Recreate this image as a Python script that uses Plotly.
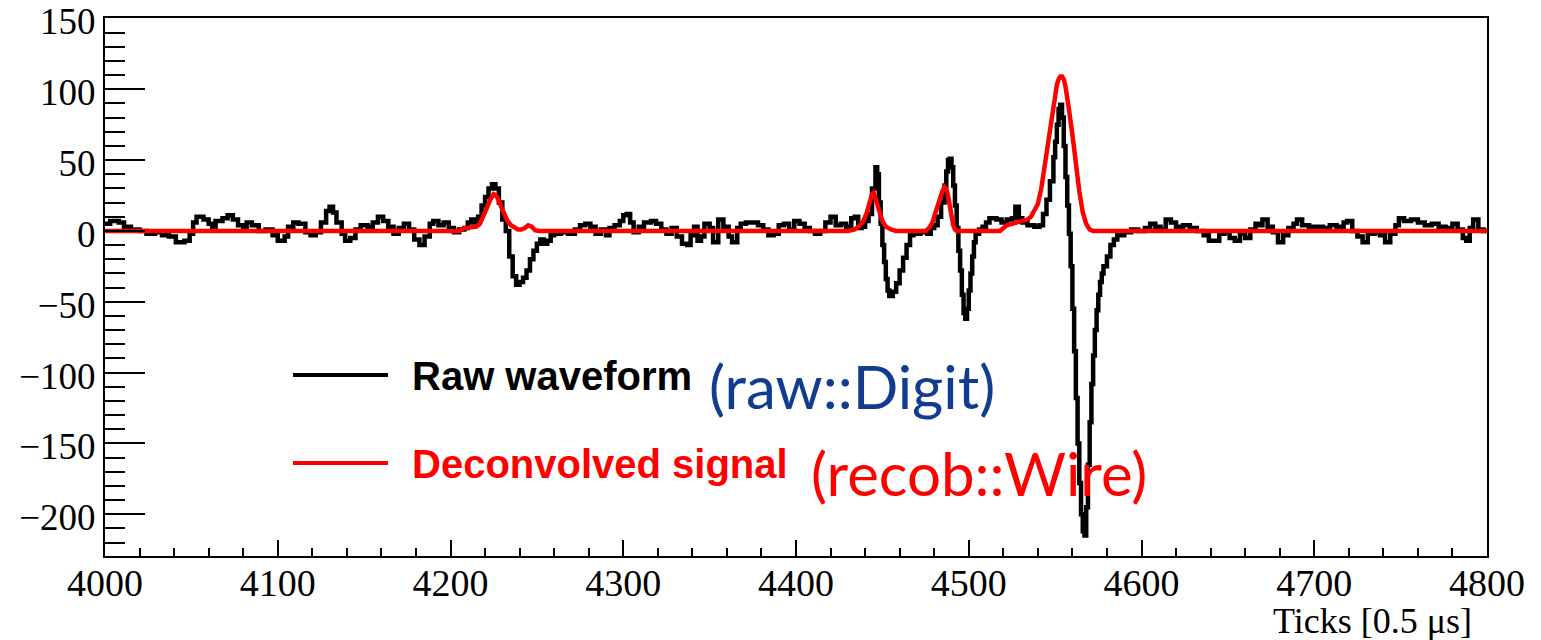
import plotly.graph_objects as go

# ---- data ----
raw_ticks = [4000, 4003, 4008, 4011, 4015, 4020, 4024, 4029, 4033, 4037, 4041, 4046, 4049, 4051, 4053, 4057,
             4060, 4062, 4064, 4068, 4071, 4074, 4077, 4080, 4082, 4085, 4089, 4093, 4097, 4100, 4104, 4106,
             4109, 4112, 4116, 4119, 4122, 4125, 4128, 4130, 4132, 4134, 4137, 4139, 4142, 4145, 4148, 4152,
             4155, 4158, 4161, 4164, 4167, 4170, 4173, 4176, 4179, 4182, 4185, 4188, 4190, 4193, 4196, 4199,
             4202, 4205, 4208, 4210, 4212, 4214, 4216, 4218, 4220, 4222, 4224, 4226, 4228, 4230, 4232, 4234,
             4236, 4238, 4240, 4242, 4244, 4246, 4248, 4250, 4252, 4254, 4256, 4258, 4260, 4264, 4268, 4272,
             4275, 4278, 4281, 4284, 4287, 4290, 4292, 4295, 4298, 4300, 4302, 4304, 4306, 4309, 4312, 4316,
             4319, 4322, 4325, 4328, 4331, 4334, 4337, 4339, 4341, 4343, 4345, 4347, 4350, 4352, 4355, 4358,
             4361, 4363, 4366, 4368, 4371, 4375, 4378, 4381, 4384, 4387, 4390, 4393, 4396, 4399, 4402, 4405,
             4408, 4411, 4414, 4417, 4420, 4423, 4426, 4429, 4432, 4434, 4436, 4438, 4440, 4442, 4444, 4446,
             4447, 4448, 4449, 4450, 4451, 4452, 4453, 4454, 4455, 4456, 4458, 4460, 4462, 4464, 4466, 4468,
             4472, 4476, 4478, 4480, 4482, 4484, 4486, 4487, 4488, 4489, 4490, 4491, 4492, 4493, 4494, 4495,
             4496, 4497, 4498, 4499, 4500, 4501, 4502, 4503, 4504, 4506, 4508, 4510, 4512, 4516, 4519, 4522,
             4525, 4527, 4529, 4531, 4534, 4538, 4541, 4543, 4545, 4547, 4549, 4550, 4551, 4552, 4553, 4554,
             4555, 4556, 4557, 4558, 4559, 4560, 4561, 4562, 4563, 4564, 4565, 4566, 4567, 4568, 4569, 4570,
             4571, 4572, 4573, 4574, 4575, 4576, 4577, 4578, 4580, 4582, 4584, 4586, 4590, 4594, 4598, 4602,
             4605, 4608, 4611, 4614, 4617, 4620, 4624, 4628, 4632, 4636, 4639, 4642, 4645, 4648, 4651, 4654,
             4657, 4660, 4663, 4666, 4668, 4670, 4673, 4676, 4679, 4682, 4685, 4688, 4690, 4693, 4697, 4701,
             4705, 4709, 4713, 4717, 4719, 4722, 4725, 4728, 4731, 4735, 4738, 4741, 4744, 4747, 4749, 4752,
             4756, 4760, 4764, 4768, 4772, 4776, 4780, 4783, 4786, 4788, 4790, 4792, 4795, 4798, 4800]
raw_adc = [5, 7, 6, 3, 1, 0, -2, -1, -3, -4, -8, -7, -2, 6, 10, 8,
           5, 3, 7, 9, 11, 8, 4, 2, 6, 4, 0, 1, -3, -7, -4, 3,
           6, 5, -1, -3, -1, 6, 14, 17, 13, 6, -2, -7, -5, 1, 4, 3,
           6, 10, 7, 3, -2, 2, 5, 1, -6, -10, -4, 5, 7, 4, 6, 2,
           -1, 1, 2, 6, 8, 6, 10, 18, 24, 30, 33, 30, 20, 8, 0, -18,
           -32, -38, -36, -33, -28, -20, -14, -9, -6, -9, -7, -3, -2, -1, -2, 1,
           4, 5, 3, -2, 1, -3, 2, 4, 7, 11, 12, 6, -1, 3, 6, 7,
           5, 1, -2, 2, -4, -9, -10, -3, 3, -7, -4, 5, 2, -8, 8, 3,
           -4, -8, 2, 5, 6, 6, 4, 1, -3, -2, 4, 5, 1, 7, 5, 2,
           0, -2, 0, 6, 10, 4, 5, 3, 9, 10, 2, 3, 7, 12, 30, 45,
           40, 20, 5, -10, -22, -34, -42, -46, -46, -43, -37, -28, -19, -10, -3, -2,
           -1, -2, 2, 4, 10, 20, 32, 42, 50, 51, 45, 32, 18, 2, -14, -28,
           -45, -58, -62, -55, -42, -30, -18, -8, -2, 1, 3, 6, 9, 8, 6, 8,
           9, 17, 9, 6, 4, 3, 4, 12, 22, 35, 52, 63, 75, 86, 89, 80,
           60, 38, 18, -2, -25, -55, -85, -118, -150, -178, -200, -212, -215, -195, -165, -135,
           -108, -88, -70, -56, -45, -36, -30, -25, -18, -10, -6, -3, -1, 1, 0, 2,
           5, 3, 1, 8, 6, 3, 4, 2, 0, -3, -7, -7, -2, -1, -5, -7,
           -2, -5, 1, 5, 4, 8, 3, -1, -8, -3, 2, 5, 8, 4, 3, 3,
           2, 4, 3, 6, 7, 0, -4, -8, -2, -1, -3, -8, -2, 4, 9, 7,
           8, 6, 4, 5, 3, 2, 5, 1, -5, -7, 2, 8, 1, 0, 0]

wire_ticks = [4000, 4205, 4208, 4212, 4215, 4217, 4219, 4221, 4223, 4224, 4225, 4226, 4227, 4229, 4231, 4233,
              4235, 4237, 4239, 4241, 4243, 4245, 4247, 4249, 4251, 4430, 4434, 4437, 4439, 4441, 4443, 4444,
              4445, 4446, 4447, 4448, 4450, 4452, 4455, 4458, 4475, 4477, 4479, 4481, 4483, 4485, 4486, 4487,
              4488, 4489, 4490, 4491, 4492, 4493, 4518, 4520, 4522, 4525, 4528, 4531, 4534, 4536, 4538, 4540,
              4542, 4544, 4546, 4548, 4550, 4551, 4552, 4553, 4554, 4555, 4556, 4557, 4558, 4560, 4562, 4564,
              4566, 4568, 4570, 4572, 4800]
wire_sig = [0, 0, 2, 3, 3, 5, 10, 16, 22, 25, 26, 25.5, 24, 18, 12, 7,
            4, 2, 1, 1, 2, 4, 3, 0.5, 0, 0, 1, 4, 7, 13, 22, 26,
            27, 23, 18, 13, 7, 3, 1, 0, 0, 2, 6, 14, 22, 29, 31, 30,
            25, 18, 10, 4, 1, 0, 0, 2, 4, 5, 6, 7, 8, 10, 14, 19,
            30, 47, 65, 82, 97, 103, 107, 109, 109, 107, 102, 95, 86, 68, 47, 28,
            13, 5, 1, 0, 0]

x_range = [4000, 4800]
y_range = [-229.5, 150.3]
y_tickvals = [-200, -150, -100, -50, 0, 50, 100, 150]
x_title = "Ticks [0.5 μs]"
legend_labels = ["Raw waveform", "Deconvolved signal"]
legend_tags = ["(raw::Digit)", "(recob::Wire)"]

fig = go.Figure()
fig.add_trace(go.Scatter(x=raw_ticks, y=raw_adc, mode="lines", line=dict(color="black", width=4.5, shape="hv"),
                         showlegend=False))
fig.add_trace(go.Scatter(x=wire_ticks, y=wire_sig, mode="lines", line=dict(color="#ff0000", width=4.5),
                         showlegend=False))

axis_common = dict(showline=True, mirror=True, linecolor="black", linewidth=2, showgrid=False, zeroline=False,
                   ticks="inside", tickcolor="black", tickwidth=2, ticklabeloverflow="allow", automargin=False)
fig.update_xaxes(range=x_range, dtick=100, tick0=4000, ticklen=16, ticklabelstandoff=-8,
                 tickfont=dict(family="Liberation Serif", size=38, color="black"),
                 minor=dict(dtick=20, ticklen=8, ticks="inside", tickcolor="black", tickwidth=2),
                 **axis_common)
fig.update_yaxes(range=y_range, tickmode="array", tickvals=y_tickvals,
                 ticktext=[("\u2212" + str(-v)) if v < 0 else str(v) for v in y_tickvals], ticklen=40,
                 ticklabelshift=3, tickfont=dict(family="Liberation Serif", size=37, color="black"),
                 minor=dict(dtick=10, tick0=0, ticklen=20, ticks="inside", tickcolor="black", tickwidth=2),
                 **axis_common)

# x-axis title, right aligned like ROOT
fig.add_annotation(text=x_title, xref="paper", yref="paper", x=1, y=(556 - 621) / 538, xanchor="right",
                   yanchor="middle", xshift=-13, showarrow=False,
                   font=dict(family="Liberation Serif", size=36, color="black"))

# custom legend
leg_colors = ["black", "#ff0000"]
tag_colors = ["#123c91", "#ff0000"]
leg_y = [375, 463]
tag_cx = [852, 979]
tag_cy = [386, 473]
for i in range(2):
    fig.add_shape(type="line", xref="paper", yref="paper",
                  x0=(293 - 105) / 1382, x1=(388 - 105) / 1382,
                  y0=(556 - leg_y[i]) / 538, y1=(556 - leg_y[i]) / 538,
                  line=dict(color=leg_colors[i], width=4))
    fig.add_annotation(text="<b>" + legend_labels[i] + "</b>", xref="paper", yref="paper",
                       x=(410 - 105) / 1382, y=(556 - leg_y[i] - 1) / 538, xanchor="left", yanchor="middle",
                       showarrow=False, font=dict(family="Liberation Sans", size=40, color=leg_colors[i]))
    fig.add_annotation(text=legend_tags[i], xref="paper", yref="paper",
                       x=(tag_cx[i] - 105) / 1382, y=(556 - tag_cy[i]) / 538, xanchor="center", yanchor="middle",
                       showarrow=False, font=dict(family="Lato", size=60, color=tag_colors[i]))

fig.update_layout(width=1541, height=640, margin=dict(l=105, r=54, t=18, b=84, autoexpand=False),
                  plot_bgcolor="white", paper_bgcolor="white", showlegend=False)

fig.write_html("out.html")
